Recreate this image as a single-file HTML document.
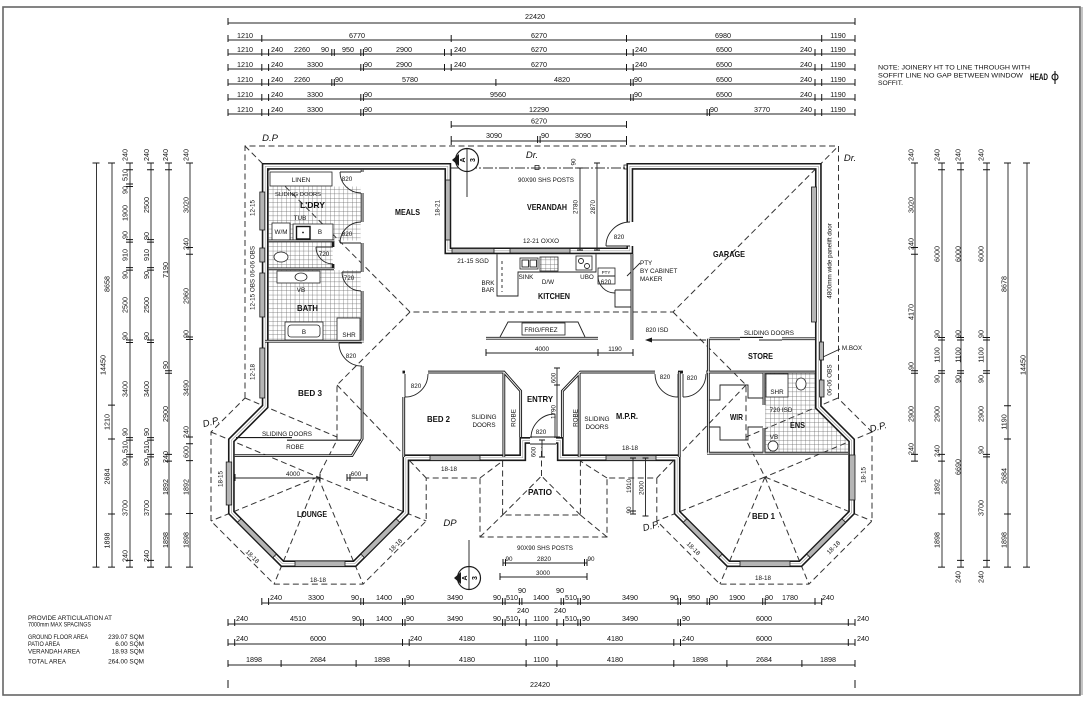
<!DOCTYPE html>
<html><head><meta charset="utf-8"><style>
html,body{margin:0;padding:0;background:#fff}
svg{display:block}
text{font-family:"Liberation Sans",sans-serif;fill:#111}
.dm{font-size:7.2px;text-anchor:middle}
.sm{font-size:6.3px;text-anchor:middle}
.rm{font-size:8.2px;font-weight:bold;text-anchor:middle}
.dp{font-family:"Liberation Serif",serif;font-style:italic;font-size:9.5px;text-anchor:middle}
.ln{stroke:#222;stroke-width:.9;fill:none}
.tk{stroke:#151515;stroke-width:1;fill:none}
.th{stroke:#222;stroke-width:.9;fill:none}
.ds{stroke:#333;stroke-width:1;fill:none;stroke-dasharray:6 3.5}
.ew{fill:none;stroke:#1a1a1a;stroke-width:6.8;stroke-linejoin:miter}
.ewi{fill:none;stroke:#fff;stroke-width:3.6;stroke-linejoin:miter}
.ewc{fill:none;stroke:#999;stroke-width:.6}
.iw{fill:none;stroke:#1a1a1a;stroke-width:2.8}
.iwi{fill:none;stroke:#fff;stroke-width:.9}
.win{fill:#b5b5b5;stroke:#1a1a1a;stroke-width:.8}
.wb{fill:#fff;stroke:#222;stroke-width:.8}
</style></head><body>
<svg width="1086" height="702" viewBox="0 0 1086 702" xmlns="http://www.w3.org/2000/svg">
<defs>
<pattern id="tl" width="4.4" height="4.4" patternUnits="userSpaceOnUse"><path d="M0 0H4.4M0 0V4.4" stroke="#666" stroke-width="0.7" fill="none"/></pattern>
</defs>
<rect width="1086" height="702" fill="#fff"/>
<!-- border -->
<rect x="3" y="7" width="1077" height="688" fill="none" stroke="#666" stroke-width="1.6"/>
<path d="M1082 7V695" stroke="#888" stroke-width="1"/>

<!-- ===== TOP DIMENSIONS ===== -->
<path class="ln" d="M228 23H855M228 40H855M228 54H855M228 69H855M228 84H855M228 99H855M228 114H855M451.2 126H626.5M451.2 141H626.5"/>
<path class="tk" d="M228 18v7M855 18v7
M228 35v7M261.8 35v7M451.2 35v7M626.5 35v7M821.7 35v7M855 35v7
M228 49v7M261.8 49v7M268.6 49v7M331.8 49v7M334.3 49v7M360.8 49v7M363.4 49v7M444.5 49v7M451.2 49v7M626.5 49v7M633.2 49v7M815 49v7M821.7 49v7M855 49v7
M228 64v7M261.8 64v7M268.6 64v7M360.8 64v7M363.4 64v7M444.5 64v7M451.2 64v7M626.5 64v7M633.2 64v7M815 64v7M821.7 64v7M855 64v7
M228 79v7M261.8 79v7M268.6 79v7M331.8 79v7M334.3 79v7M495.9 79v7M630.7 79v7M633.2 79v7M815 79v7M821.7 79v7M855 79v7
M228 94v7M261.8 94v7M268.6 94v7M360.8 94v7M363.4 94v7M630.7 94v7M633.2 94v7M815 94v7M821.7 94v7M855 94v7
M228 109v7M261.8 109v7M268.6 109v7M360.8 109v7M363.4 109v7M707.1 109v7M709.6 109v7M815 109v7M821.7 109v7M855 109v7
M451.2 121v7M626.5 121v7
M451.2 136v9M537.6 136v7M540.1 136v7M626.5 136v9"/>
<g class="dm">
<text x="535" y="19">22420</text>
<text x="245" y="38">1210</text><text x="357" y="38">6770</text><text x="539" y="38">6270</text><text x="723" y="38">6980</text><text x="838" y="38">1190</text>
<text x="245" y="52">1210</text><text x="277" y="52">240</text><text x="302" y="52">2260</text><text x="325" y="52">90</text><text x="348" y="52">950</text><text x="368" y="52">90</text><text x="404" y="52">2900</text><text x="460" y="52">240</text><text x="539" y="52">6270</text><text x="641" y="52">240</text><text x="724" y="52">6500</text><text x="806" y="52">240</text><text x="838" y="52">1190</text>
<text x="245" y="67">1210</text><text x="277" y="67">240</text><text x="315" y="67">3300</text><text x="368" y="67">90</text><text x="404" y="67">2900</text><text x="460" y="67">240</text><text x="539" y="67">6270</text><text x="641" y="67">240</text><text x="724" y="67">6500</text><text x="806" y="67">240</text><text x="838" y="67">1190</text>
<text x="245" y="82">1210</text><text x="277" y="82">240</text><text x="302" y="82">2260</text><text x="339" y="82">90</text><text x="410" y="82">5780</text><text x="562" y="82">4820</text><text x="638" y="82">90</text><text x="724" y="82">6500</text><text x="806" y="82">240</text><text x="838" y="82">1190</text>
<text x="245" y="97">1210</text><text x="277" y="97">240</text><text x="315" y="97">3300</text><text x="368" y="97">90</text><text x="498" y="97">9560</text><text x="638" y="97">90</text><text x="724" y="97">6500</text><text x="806" y="97">240</text><text x="838" y="97">1190</text>
<text x="245" y="112">1210</text><text x="277" y="112">240</text><text x="315" y="112">3300</text><text x="368" y="112">90</text><text x="539" y="112">12290</text><text x="714" y="112">90</text><text x="762" y="112">3770</text><text x="806" y="112">240</text><text x="838" y="112">1190</text>
<text x="539" y="123.5">6270</text>
<text x="494" y="138">3090</text><text x="545" y="138">90</text><text x="583" y="138">3090</text>
</g>

<!-- NOTE -->
<text x="878" y="69.5" font-size="6.6" textLength="152" lengthAdjust="spacingAndGlyphs">NOTE: JOINERY HT TO LINE THROUGH WITH</text>
<text x="878" y="77.5" font-size="6.6" textLength="145" lengthAdjust="spacingAndGlyphs">SOFFIT LINE NO GAP BETWEEN WINDOW</text>
<text x="878" y="85" font-size="6.6" textLength="25" lengthAdjust="spacingAndGlyphs">SOFFIT.</text>
<text x="1030" y="80" font-size="9" font-weight="bold" textLength="18" lengthAdjust="spacingAndGlyphs">HEAD</text>
<circle cx="1055" cy="77" r="3" fill="none" stroke="#111" stroke-width="1.1"/>
<path d="M1055 71V84" stroke="#111" stroke-width="1.1"/>

<!-- ===== LEFT VERTICAL DIMENSIONS ===== -->
<path class="ln" d="M96.5 163V567.1M112 163V567.1M130 163V567.1M151 163V567.1M169 163V567.1M190 163V567.1"/>
<path class="tk" d="M92.5 163h7M92.5 567.1h7
M108 163h7M108 405.1h7M108 439h7M108 514h7M108 567.1h7
M126 163h7M126 169.7h7M126 184h7M126 186.5h7M126 239.6h7M126 242.1h7M126 267.6h7M126 270.1h7M126 340h7M126 342.5h7M126 437.6h7M126 440.1h7M126 454.4h7M126 456.9h7M126 560.4h7M126 567.1h7
M147 163h7M147 169.7h7M147 239.6h7M147 242.1h7M147 267.6h7M147 270.1h7M147 340h7M147 342.5h7M147 437.6h7M147 440.1h7M147 454.4h7M147 456.9h7M147 560.4h7M147 567.1h7
M165 163h7M165 169.7h7M165 370.8h7M165 373.3h7M165 454.4h7M165 461.1h7M165 514h7M165 567.1h7
M186 163h7M186 247.5h7M186 254.2h7M186 337h7M186 339.5h7M186 437h7M186 443.8h7M186 460.6h7M186 513.5h7M186 567.1h7"/>
<g class="dm">
<text transform="translate(105.5,365) rotate(-90)">14450</text>
<text transform="translate(109.5,284) rotate(-90)">8658</text>
<text transform="translate(109.5,422) rotate(-90)">1210</text>
<text transform="translate(109.5,476.5) rotate(-90)">2684</text>
<text transform="translate(109.5,540.5) rotate(-90)">1898</text>

<text transform="translate(127.5,155) rotate(-90)">240</text>
<text transform="translate(127.5,175) rotate(-90)">510</text>
<text transform="translate(127.5,190) rotate(-90)">90</text>
<text transform="translate(127.5,213) rotate(-90)">1900</text>
<text transform="translate(127.5,235) rotate(-90)">90</text>
<text transform="translate(127.5,255) rotate(-90)">910</text>
<text transform="translate(127.5,275) rotate(-90)">90</text>
<text transform="translate(127.5,305) rotate(-90)">2500</text>
<text transform="translate(127.5,336) rotate(-90)">90</text>
<text transform="translate(127.5,389) rotate(-90)">3400</text>
<text transform="translate(127.5,432) rotate(-90)">90</text>
<text transform="translate(127.5,447) rotate(-90)">510</text>
<text transform="translate(127.5,462) rotate(-90)">90</text>
<text transform="translate(127.5,508) rotate(-90)">3700</text>
<text transform="translate(127.5,556) rotate(-90)">240</text>

<text transform="translate(149,155) rotate(-90)">240</text>
<text transform="translate(149,205) rotate(-90)">2500</text>
<text transform="translate(149,236) rotate(-90)">90</text>
<text transform="translate(149,255) rotate(-90)">910</text>
<text transform="translate(149,275) rotate(-90)">90</text>
<text transform="translate(149,305) rotate(-90)">2500</text>
<text transform="translate(149,336) rotate(-90)">90</text>
<text transform="translate(149,389) rotate(-90)">3400</text>
<text transform="translate(149,432) rotate(-90)">90</text>
<text transform="translate(149,447) rotate(-90)">510</text>
<text transform="translate(149,462) rotate(-90)">90</text>
<text transform="translate(149,508) rotate(-90)">3700</text>
<text transform="translate(149,556) rotate(-90)">240</text>

<text transform="translate(168,155) rotate(-90)">240</text>
<text transform="translate(168,270) rotate(-90)">7190</text>
<text transform="translate(168,365) rotate(-90)">90</text>
<text transform="translate(168,414) rotate(-90)">2900</text>
<text transform="translate(168,457) rotate(-90)">240</text>
<text transform="translate(168,487) rotate(-90)">1892</text>
<text transform="translate(168,540) rotate(-90)">1898</text>

<text transform="translate(188.5,155) rotate(-90)">240</text>
<text transform="translate(188.5,205) rotate(-90)">3020</text>
<text transform="translate(188.5,244) rotate(-90)">240</text>
<text transform="translate(188.5,296) rotate(-90)">2960</text>
<text transform="translate(188.5,334) rotate(-90)">90</text>
<text transform="translate(188.5,388) rotate(-90)">3490</text>
<text transform="translate(188.5,432) rotate(-90)">240</text>
<text transform="translate(188.5,452) rotate(-90)">600</text>
<text transform="translate(188.5,487) rotate(-90)">1892</text>
<text transform="translate(188.5,540) rotate(-90)">1898</text>
</g>

<!-- ===== RIGHT VERTICAL DIMENSIONS ===== -->
<path class="ln" d="M915 163V461.1M942 163V567.1M961 163V567.1M987 163V567.1M1008 163V567.1M1027 163V567.1"/>
<path class="tk" d="M911 163h7M911 247.5h7M911 254.2h7M911 370.8h7M911 373.3h7M911 454.4h7M911 461.1h7
M938 163h7M938 169.7h7M938 337.5h7M938 340h7M938 370.8h7M938 373.3h7M938 454.4h7M938 461.1h7M938 514h7M938 567.1h7
M957 163h7M957 169.7h7M957 337.5h7M957 340h7M957 370.8h7M957 373.3h7M957 560.4h7M957 567.1h7
M983 163h7M983 169.7h7M983 337.5h7M983 340h7M983 370.8h7M983 373.3h7M983 454.4h7M983 456.9h7M983 560.4h7M983 567.1h7
M1004 163h7M1004 405.7h7M1004 439h7M1004 514h7M1004 567.1h7
M1023 163h7M1023 567.1h7"/>
<g class="dm">
<text transform="translate(913.5,155) rotate(-90)">240</text>
<text transform="translate(913.5,205) rotate(-90)">3020</text>
<text transform="translate(913.5,244) rotate(-90)">240</text>
<text transform="translate(913.5,312) rotate(-90)">4170</text>
<text transform="translate(913.5,366) rotate(-90)">90</text>
<text transform="translate(913.5,414) rotate(-90)">2900</text>
<text transform="translate(913.5,449) rotate(-90)">240</text>

<text transform="translate(939.5,155) rotate(-90)">240</text>
<text transform="translate(939.5,254) rotate(-90)">6000</text>
<text transform="translate(939.5,334) rotate(-90)">90</text>
<text transform="translate(939.5,355) rotate(-90)">1100</text>
<text transform="translate(939.5,379) rotate(-90)">90</text>
<text transform="translate(939.5,414) rotate(-90)">2900</text>
<text transform="translate(939.5,451) rotate(-90)">240</text>
<text transform="translate(939.5,487) rotate(-90)">1892</text>
<text transform="translate(939.5,540) rotate(-90)">1898</text>

<text transform="translate(960.5,155) rotate(-90)">240</text>
<text transform="translate(960.5,254) rotate(-90)">6000</text>
<text transform="translate(960.5,334) rotate(-90)">90</text>
<text transform="translate(960.5,355) rotate(-90)">1100</text>
<text transform="translate(960.5,379) rotate(-90)">90</text>
<text transform="translate(960.5,467) rotate(-90)">6690</text>
<text transform="translate(960.5,577) rotate(-90)">240</text>

<text transform="translate(983.5,155) rotate(-90)">240</text>
<text transform="translate(983.5,254) rotate(-90)">6000</text>
<text transform="translate(983.5,334) rotate(-90)">90</text>
<text transform="translate(983.5,355) rotate(-90)">1100</text>
<text transform="translate(983.5,379) rotate(-90)">90</text>
<text transform="translate(983.5,414) rotate(-90)">2900</text>
<text transform="translate(983.5,450) rotate(-90)">90</text>
<text transform="translate(983.5,508) rotate(-90)">3700</text>
<text transform="translate(983.5,577) rotate(-90)">240</text>

<text transform="translate(1006.5,284) rotate(-90)">8678</text>
<text transform="translate(1006.5,422) rotate(-90)">1190</text>
<text transform="translate(1006.5,476) rotate(-90)">2684</text>
<text transform="translate(1006.5,540) rotate(-90)">1898</text>
<text transform="translate(1025.5,365) rotate(-90)">14450</text>
</g>

<!-- ===== BOTTOM DIMENSIONS ===== -->
<path class="ln" d="M261.8 603H821.7M228 624H855M228 644H855M228 665H855"/>
<path class="tk" d="M261.8 598v7M268.6 598v7M360.8 598v7M363.4 598v7M402.5 598v7M405 598v7M502.6 598v7M505.1 598v7M519.4 598v7M521.9 598v7M561.1 598v7M563.6 598v7M577.9 598v7M580.4 598v7M678 598v7M680.5 598v7M707.1 598v7M709.6 598v7M762.7 598v7M765.2 598v7M815 598v7M821.7 598v7
M228 619v7M234.7 619v7M360.8 619v7M363.4 619v7M402.5 619v7M405 619v7M502.6 619v7M505.1 619v7M519.4 619v7M526.1 619v7M556.9 619v7M563.6 619v7M577.9 619v7M580.4 619v7M678 619v7M680.5 619v7M848.3 619v7M855 619v7
M228 639v7M234.7 639v7M402.5 639v7M409.2 639v7M526.1 639v7M556.9 639v7M673.8 639v7M680.5 639v7M848.3 639v7M855 639v7
M228 660v7M281.1 660v7M356.1 660v7M409.2 660v7M526.1 660v7M556.9 660v7M673.8 660v7M726.9 660v7M801.9 660v7M855 660v7
M228 680v8M855 680v8"/>
<g class="dm">
<text x="276" y="600">240</text><text x="316" y="600">3300</text><text x="355" y="600">90</text><text x="384" y="600">1400</text><text x="410" y="600">90</text><text x="455" y="600">3490</text><text x="497" y="600">90</text><text x="512" y="600">510</text><text x="522" y="593">90</text><text x="541" y="600">1400</text><text x="560" y="593">90</text><text x="571" y="600">510</text><text x="586" y="600">90</text><text x="630" y="600">3490</text><text x="674" y="600">90</text><text x="694" y="600">950</text><text x="714" y="600">90</text><text x="737" y="600">1900</text><text x="769" y="600">90</text><text x="790" y="600">1780</text><text x="828" y="600">240</text>
<text x="242" y="621">240</text><text x="298" y="621">4510</text><text x="356" y="621">90</text><text x="384" y="621">1400</text><text x="410" y="621">90</text><text x="455" y="621">3490</text><text x="497" y="621">90</text><text x="512" y="621">510</text><text x="523" y="613">240</text><text x="541" y="621">1100</text><text x="560" y="613">240</text><text x="571" y="621">510</text><text x="586" y="621">90</text><text x="630" y="621">3490</text><text x="686" y="621">90</text><text x="764" y="621">6000</text><text x="863" y="621">240</text>
<text x="242" y="641">240</text><text x="318" y="641">6000</text><text x="416" y="641">240</text><text x="467" y="641">4180</text><text x="541" y="641">1100</text><text x="615" y="641">4180</text><text x="688" y="641">240</text><text x="764" y="641">6000</text><text x="863" y="641">240</text>
<text x="254" y="662">1898</text><text x="318" y="662">2684</text><text x="382" y="662">1898</text><text x="467" y="662">4180</text><text x="541" y="662">1100</text><text x="615" y="662">4180</text><text x="700" y="662">1898</text><text x="764" y="662">2684</text><text x="828" y="662">1898</text>
<text x="540" y="687">22420</text>
</g>

<!-- bottom-left notes -->
<g font-size="6.4">
<text x="28" y="620" textLength="84" lengthAdjust="spacingAndGlyphs">PROVIDE ARTICULATION AT</text>
<text x="28" y="626.5" textLength="63" lengthAdjust="spacingAndGlyphs">7000mm MAX SPACINGS</text>
<text x="28" y="639" textLength="60" lengthAdjust="spacingAndGlyphs">GROUND FLOOR AREA</text>
<text x="28" y="646" textLength="32" lengthAdjust="spacingAndGlyphs">PATIO AREA</text>
<text x="28" y="653.5" textLength="52" lengthAdjust="spacingAndGlyphs">VERANDAH AREA</text>
<text x="28" y="663.5" textLength="38" lengthAdjust="spacingAndGlyphs">TOTAL AREA</text>
<text x="144" y="639" text-anchor="end">239.07 SQM</text>
<text x="144" y="646" text-anchor="end">6.00 SQM</text>
<text x="144" y="653.5" text-anchor="end">18.93 SQM</text>
<text x="144" y="663.5" text-anchor="end">264.00 SQM</text>
</g>

<!-- ===== ROOF / EAVES (dashed) ===== -->
<path class="ds" d="M245 398V146H838.5V398.7L872 432V521L808.9 584.1H719.9L656.8 521V478H607V537H480V478H426.2V521L363.1 584.1H274.1L211 521V432Z"/>
<path class="ds" d="M245 146L410 312H673L838.5 146
M410 312L337 385V440L318 477M337 385L426.2 478M245 398L337 437M211 432L318 477
M318 477L211 521M318 477L274.1 584.1M318 477L363.1 584.1M318 477L426.2 521
M673 312L746 385V440L765 477M746 385L656.8 478M838 398L746 437M872 432L765 477
M765 477L872 521M765 477L808.9 584.1M765 477L719.9 584.1M765 477L656.8 521
M480 478L502.6 461M607 478L580.4 461M480 537L502.6 515M607 537L580.4 515
M502.6 461V515H580.4V461M502.6 515L541.5 476L580.4 515M541.5 476V447"/>
<path d="M451 168H627" stroke="#333" stroke-width=".9" stroke-dasharray="10 2 2 2" fill="none"/>
<rect x="535" y="165.5" width="4" height="4" fill="none" stroke="#222" stroke-width=".8"/>
<rect x="624" y="165" width="4" height="4" fill="none" stroke="#222" stroke-width=".8"/>

<!-- ===== TILES & FIXTURES ===== -->
<rect x="268.6" y="186.5" width="92" height="54" fill="url(#tl)"/>
<rect x="268.6" y="242" width="64" height="26" fill="url(#tl)"/>
<rect x="268.6" y="270" width="92" height="70.5" fill="url(#tl)"/>
<polygon points="765.2,373.3 815,373.3 815,408.5 848.3,441.8 848.3,452 765.2,452" fill="url(#tl)"/>
<rect class="wb" x="270" y="172" width="62" height="14"/>
<rect class="wb" x="272" y="223" width="18" height="17"/>
<rect class="wb" x="293" y="224" width="40" height="16"/>
<rect x="296.5" y="226.5" width="13.5" height="12.5" fill="#fff" stroke="#111" stroke-width="1.4"/>
<circle cx="303" cy="232.5" r=".9" fill="#111"/>
<ellipse class="wb" cx="281" cy="257" rx="7" ry="5"/>
<rect class="wb" x="277" y="271" width="43" height="12"/>
<ellipse class="wb" cx="301" cy="277" rx="6" ry="4"/>
<rect class="wb" x="285" y="322" width="38" height="18"/>
<rect class="wb" x="288" y="325" width="32" height="12" rx="3"/>
<rect class="wb" x="337" y="318" width="23" height="23"/>
<rect class="wb" x="766" y="374" width="22" height="23"/>
<ellipse class="wb" cx="801" cy="384" rx="5" ry="6"/>
<circle class="wb" cx="773" cy="446" r="5"/>

<!-- kitchen -->
<path class="th" d="M497 254.2V296H518V272H596V254.2M502 258V292"/>
<path d="M502 258V292" stroke="#fff" stroke-width="1.1" stroke-dasharray="3 3"/>
<rect class="wb" x="520" y="258" width="18" height="11"/>
<rect class="th" x="522" y="260" width="6.5" height="7"/><rect class="th" x="530" y="260" width="6.5" height="7"/>
<rect x="540" y="257" width="18" height="14" fill="url(#tl)" stroke="#222" stroke-width=".8"/>
<rect class="wb" x="576" y="256" width="16" height="14"/>
<circle class="th" cx="581" cy="261" r="2.5"/><circle class="th" cx="587" cy="266" r="2.5"/>
<rect class="wb" x="598" y="268" width="17" height="16"/>
<path class="th" d="M615 290H631M615 290V307H631M640 263L627 276"/>
<path class="th" d="M500 337L508 322H578L585 337"/>
<rect class="wb" x="522" y="323" width="43" height="12"/>

<!-- ===== EXTERIOR WALLS ===== -->
<g>
<path class="ew" d="M265.15 166.35H447.85V250.85H629.85V166.35H818.35V407.1L851.65 440.4V512.6L800.5 563.75H728.3L677.15 512.6V457.75H560.25V440.45H522.75V457.75H405.85V512.6L354.7 563.75H282.45L231.35 512.6V440.3L265.15 406.5Z"/>
<path class="ewi" d="M265.15 166.35H447.85V250.85H629.85V166.35H818.35V407.1L851.65 440.4V512.6L800.5 563.75H728.3L677.15 512.6V457.75H560.25V440.45H522.75V457.75H405.85V512.6L354.7 563.75H282.45L231.35 512.6V440.3L265.15 406.5Z"/>
<path class="ewc" d="M265.15 166.35H447.85V250.85H629.85V166.35H818.35V407.1L851.65 440.4V512.6L800.5 563.75H728.3L677.15 512.6V457.75H560.25V440.45H522.75V457.75H405.85V512.6L354.7 563.75H282.45L231.35 512.6V440.3L265.15 406.5Z"/>
</g>
<!-- door openings in ext walls -->
<rect x="530" y="436" width="26" height="9" fill="#fff"/>
<path class="th" d="M530 437H556M530 444H556"/>
<rect x="625.5" y="222" width="9" height="24" fill="#fff"/>

<!-- ===== INTERNAL WALLS ===== -->
<g>
<path class="iw" d="M362.1 169.7V172M362.1 193V222M362.1 243V272M362.1 291V342.5M268.6 240.85H334M268.6 268.85H334M333 240.85V247M333 264V268.85M265 341.25H363.4M362.1 366V438.9L352 455.65H234.7M402.5 372.05H405M428 372.05H504L520.65 391V437M403.75 397V457M503.85 372.05V457M562.35 437V391L580.4 372.05H655M678 372.05H683M706 372.05H815M579.15 372.05V457M679.25 372.05V457M486 338.25H598M631.95 254V340M708.35 338.75V454M709.6 338.75H740M782 338.75H815M763.95 373V405M763.95 428V454M707 453.2H848"/>
<path class="iwi" d="M362.1 169.7V172M362.1 193V222M362.1 243V272M362.1 291V342.5M268.6 240.85H334M268.6 268.85H334M265 341.25H363.4M362.1 366V438.9L352 455.65H234.7M428 372.05H504L520.65 391V437M403.75 397V457M503.85 372.05V457M562.35 437V391L580.4 372.05H655M706 372.05H815M579.15 372.05V457M679.25 372.05V457M486 338.25H598M631.95 254V340M708.35 338.75V454M709.6 338.75H740M782 338.75H815M763.95 373V405M763.95 428V454M707 453.2H848"/>
</g>
<!-- sliding doors -->
<path d="M236 437.6H292M287 440.2H361M740 337.4H763M759 340H782" stroke="#1a1a1a" stroke-width="1.1" fill="none"/>
<!-- WIR shelves -->
<path class="th" d="M709.6 400H720V385H748V398H763M709.6 427H720V440H748V427H763"/>
<!-- 820 ISD -->
<path class="th" d="M650 340H706"/>
<polygon points="645,340 652,337.5 652,342.5" fill="#1a1a1a"/>
<path class="th" d="M823 357L840 349"/>

<!-- doors -->
<path class="th" d="M361 172H340M340 172A21 21 0 0 0 361 193
M361 243H340M340 243A21 21 0 0 1 361 222
M333 247H316M316 247A17 17 0 0 0 333 264
M361 272H342M342 272A19 19 0 0 0 361 291
M362 343H339M339 343A23 23 0 0 0 362 366
M405 374V397M405 397A23 23 0 0 0 428 374
M678 374V397M678 397A23 23 0 0 1 655 374
M683 374V397M683 397A23 23 0 0 0 706 374
M555 438V414M555 414A24 24 0 0 0 531 438
M630 246H606M606 246A24 24 0 0 1 630 222
M615 276H598M598 276A17 17 0 0 0 615 293"/>

<!-- ===== WINDOWS ===== -->
<g class="win">
<rect x="259.8" y="192" width="5" height="38"/>
<rect x="259.8" y="248" width="5" height="14"/>
<rect x="259.8" y="273" width="5" height="44"/>
<rect x="259.8" y="348" width="5" height="50"/>
<rect x="445.6" y="180" width="4.6" height="60"/>
<rect x="452" y="248.5" width="42" height="4.5"/>
<rect x="510" y="248.5" width="60" height="4.5"/>
<rect x="811.5" y="187" width="5" height="135"/>
<rect x="819.5" y="380" width="4.5" height="17"/>
<rect x="819.5" y="342" width="4" height="18"/>
<rect x="226.2" y="462" width="5.5" height="43"/>
<rect x="295" y="561" width="50" height="5.5"/>
<rect x="430" y="455.5" width="50" height="5"/>
<rect x="606" y="455.5" width="50" height="5"/>
<rect x="849.5" y="455" width="5.5" height="45"/>
<rect x="740" y="561" width="50" height="5.5"/>
<rect x="-25" y="-2.5" width="50" height="5" transform="translate(256.9,538.2) rotate(45)"/>
<rect x="-25" y="-2.5" width="50" height="5" transform="translate(380.3,538.2) rotate(-45)"/>
<rect x="-25" y="-2.5" width="50" height="5" transform="translate(702.7,538.2) rotate(45)"/>
<rect x="-25" y="-2.5" width="50" height="5" transform="translate(826.1,538.2) rotate(-45)"/>
</g>

<!-- ===== DIMENSIONS WITHIN PLAN ===== -->
<path class="ln" d="M580 168V250M597 163V250M486 353H633M235 478H320M347 478H367M633 458V514M645.5 458V516M503 563H587M500 577H587M557 368V437M542 440V457"/>
<path class="tk" d="M577 168h6M577 250h6M594 163h6M594 250h6M486 349v7M598 349v7M633 349v7M235 474v7M320 474v7M347 474v7M350 474v7M367 474v7M630 458h6M630 511h6M630 514h6M642.5 458h6M642.5 516h6M503 559v7M505.5 559v7M584.5 559v7M587 559v7M500 573v7M587 573v7M554 368h6M554 385h6M554 437h6M539 440h6M539 457h6"/>

<!-- section markers -->
<circle cx="467" cy="160" r="11.5" fill="#fff" stroke="#1a1a1a" stroke-width="1.2"/>
<path d="M467 148.5V197" stroke="#1a1a1a" stroke-width=".9"/>
<polygon points="452,160 459,154 459,166" fill="#1a1a1a"/>
<text font-size="7" font-weight="bold" text-anchor="middle" transform="translate(465,160) rotate(-90)">A</text>
<text font-size="7" font-weight="bold" text-anchor="middle" transform="translate(475,160) rotate(-90)">3</text>
<circle cx="469" cy="578" r="11.5" fill="#fff" stroke="#1a1a1a" stroke-width="1.2"/>
<path d="M469 540V589.5" stroke="#1a1a1a" stroke-width=".9"/>
<polygon points="454,578 461,572 461,584" fill="#1a1a1a"/>
<text font-size="7" font-weight="bold" text-anchor="middle" transform="translate(467,578) rotate(-90)">A</text>
<text font-size="7" font-weight="bold" text-anchor="middle" transform="translate(477,578) rotate(-90)">3</text>

<!-- ===== ROOM LABELS ===== -->
<g class="rm">
<text x="312.5" y="208" textLength="25" lengthAdjust="spacingAndGlyphs">L'DRY</text>
<text x="307.5" y="311" textLength="21" lengthAdjust="spacingAndGlyphs">BATH</text>
<text x="407.5" y="215" textLength="25" lengthAdjust="spacingAndGlyphs">MEALS</text>
<text x="547" y="210" textLength="40" lengthAdjust="spacingAndGlyphs">VERANDAH</text>
<text x="554" y="299" textLength="32" lengthAdjust="spacingAndGlyphs">KITCHEN</text>
<text x="729" y="257" textLength="32" lengthAdjust="spacingAndGlyphs">GARAGE</text>
<text x="760.5" y="359" textLength="25" lengthAdjust="spacingAndGlyphs">STORE</text>
<text x="310" y="396" textLength="24" lengthAdjust="spacingAndGlyphs">BED 3</text>
<text x="438.5" y="422" textLength="23" lengthAdjust="spacingAndGlyphs">BED 2</text>
<text x="540" y="402" textLength="26" lengthAdjust="spacingAndGlyphs">ENTRY</text>
<text x="627" y="419" textLength="22" lengthAdjust="spacingAndGlyphs">M.P.R.</text>
<text x="736.5" y="420" textLength="13" lengthAdjust="spacingAndGlyphs">WIR</text>
<text x="797.5" y="428" textLength="15" lengthAdjust="spacingAndGlyphs">ENS</text>
<text x="540" y="495" textLength="24" lengthAdjust="spacingAndGlyphs">PATIO</text>
<text x="312" y="517" textLength="30" lengthAdjust="spacingAndGlyphs">LOUNGE</text>
<text x="763.5" y="519" textLength="23" lengthAdjust="spacingAndGlyphs">BED 1</text>
</g>

<!-- ===== SMALL LABELS ===== -->
<g class="sm">
<text x="301" y="182">LINEN</text>
<text x="347" y="181">820</text>
<text x="298" y="196" font-size="5.8">SLIDING DOORS</text>
<text x="300" y="220">TUB</text>
<text x="281" y="234">W/M</text>
<text x="320" y="234">B</text>
<text x="347" y="236">820</text>
<text x="324" y="256">720</text>
<text x="349" y="280">720</text>
<text x="301" y="292">VB</text>
<text x="304" y="334">B</text>
<text x="349" y="337">SHR</text>
<text x="351" y="358">820</text>
<text x="546" y="182">90X90 SHS POSTS</text>
<text x="541" y="243">12-21 OXXO</text>
<text x="473" y="263">21-15 SGD</text>
<text x="619" y="239">820</text>
<text x="526" y="279">SINK</text>
<text x="548" y="284">D/W</text>
<text x="587" y="279">UBO</text>
<text x="606" y="274" font-size="4.5">PTY</text>
<text x="606" y="284">620</text>
<text x="488" y="285">BRK</text>
<text x="488" y="292">BAR</text>
<text x="640" y="265" text-anchor="start">PTY</text>
<text x="640" y="273" text-anchor="start">BY CABINET</text>
<text x="640" y="281" text-anchor="start">MAKER</text>
<text x="541" y="332">FRIG/FREZ</text>
<text x="542" y="351">4000</text>
<text x="615" y="351">1190</text>
<text x="657" y="332">820 ISD</text>
<text x="769" y="335">SLIDING DOORS</text>
<text x="852" y="350">M.BOX</text>
<text x="416" y="388">820</text>
<text x="484" y="419">SLIDING</text>
<text x="484" y="427">DOORS</text>
<text x="541" y="434">820</text>
<text x="597" y="421">SLIDING</text>
<text x="597" y="429">DOORS</text>
<text x="665" y="379">820</text>
<text x="692" y="380">820</text>
<text x="777" y="394">SHR</text>
<text x="781" y="412">720 ISD</text>
<text x="774" y="439">VB</text>
<text x="449" y="471">18-18</text>
<text x="630" y="450">18-18</text>
<text x="287" y="436">SLIDING DOORS</text>
<text x="295" y="449">ROBE</text>
<text x="293" y="476">4000</text>
<text x="356" y="476">600</text>
<text x="318" y="582">18-18</text>
<text x="763" y="580">18-18</text>
<text x="545" y="550">90X90 SHS POSTS</text>
<text x="509" y="561">90</text>
<text x="544" y="561">2820</text>
<text x="591" y="561">90</text>
<text x="543" y="575">3000</text>
<text transform="translate(439.5,208) rotate(-90)">18-21</text>
<text transform="translate(577.5,207) rotate(-90)">2780</text>
<text transform="translate(595,207) rotate(-90)">2870</text>
<text transform="translate(575.5,162) rotate(-90)">90</text>
<text transform="translate(831.5,261) rotate(-90)">4800mm wide panelift door</text>
<text transform="translate(831.5,380) rotate(-90)">06-06 OBS</text>
<text transform="translate(515.5,418) rotate(-90)">ROBE</text>
<text transform="translate(577.5,418) rotate(-90)">ROBE</text>
<text transform="translate(555.5,412) rotate(-90)">1790</text>
<text transform="translate(555.5,378) rotate(-90)">600</text>
<text transform="translate(535.5,452) rotate(-90)">600</text>
<text transform="translate(631,486) rotate(-90)">1910</text>
<text transform="translate(643.5,488) rotate(-90)">2000</text>
<text transform="translate(631,510) rotate(-90)">90</text>
<text transform="translate(222.5,479) rotate(-90)">18-15</text>
<text transform="translate(865.5,475) rotate(-90)">18-15</text>
<text transform="translate(254.5,208) rotate(-90)">12-15</text>
<text transform="translate(254.5,278) rotate(-90)">12-15 OBS 06-06 OBS</text>
<text transform="translate(254.5,372) rotate(-90)">12-18</text>
<text transform="translate(251,558) rotate(45)">18-18</text>
<text transform="translate(397,547) rotate(-45)">18-18</text>
<text transform="translate(692,550) rotate(45)">18-18</text>
<text transform="translate(835,549) rotate(-45)">18-18</text>
</g>

<!-- D.P. marks -->
<g class="dp">
<text x="270" y="141">D.P</text>
<text x="532" y="158">Dr.</text>
<text x="850" y="161">Dr.</text>
<text x="212" y="425" transform="rotate(-15 212 425)">D.P.</text>
<text x="450" y="526">DP</text>
<text x="652" y="529" transform="rotate(-15 652 529)">D.P.</text>
<text x="879" y="430" transform="rotate(-15 879 430)">D.P.</text>
</g>
</svg>
</body></html>
